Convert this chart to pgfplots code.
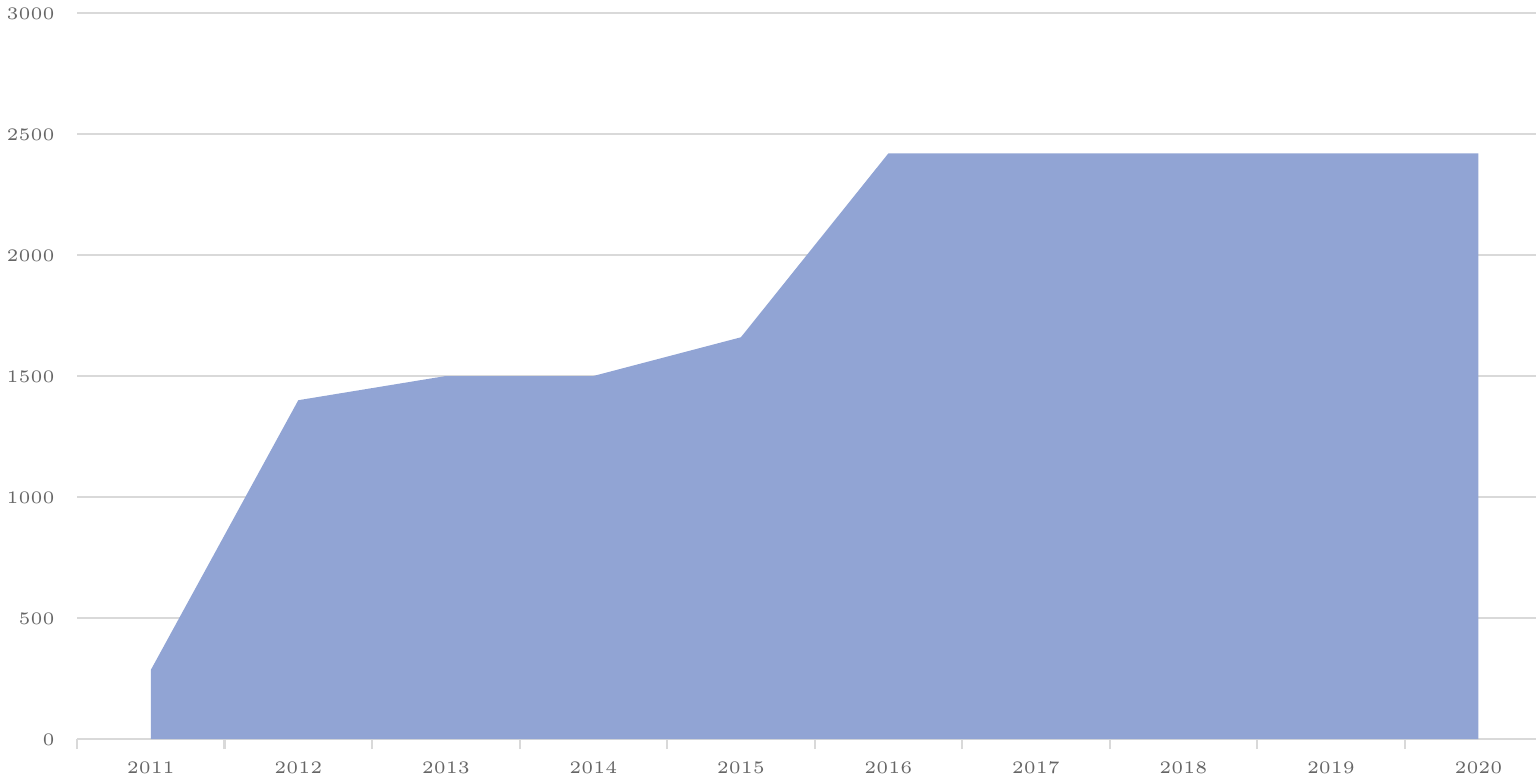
\documentclass[border=0pt]{standalone}
\usepackage{pgfplots}
\pgfplotsset{compat=1.18}
\definecolor{areafill}{HTML}{91A4D4}
\definecolor{gridc}{HTML}{D9D9D9}
\definecolor{labc}{HTML}{666666}
\begin{document}
\begin{tikzpicture}
\useasboundingbox (0,0) rectangle (15.36,7.78);
\begin{axis}[
  at={(0.77cm,0.39cm)}, anchor=south west,
  scale only axis,
  width=14.59cm, height=7.26cm,
  xmin=-0.5, xmax=9.39,
  ymin=0, ymax=3000,
  ytick={0,500,...,3000},
  yticklabel style={/pgf/number format/1000 sep={}},
  xtick={0,...,9},
  xticklabels={2011,2012,2013,2014,2015,2016,2017,2018,2019,2020},
  minor xtick={-0.5,0.5,...,8.5},
  major x tick style={draw=none},
  minor x tick style={draw=gridc, line width=0.6pt},
  minor tick length=0.1cm,
  tick align=outside,
  y tick style={draw=none},
  ymajorgrids, grid style={draw=gridc, line width=0.6pt},
  axis x line*=bottom, axis y line*=left,
  y axis line style={draw=none},
  x axis line style={draw=gridc, line width=0.8pt, -},
  ticklabel style={font=\tiny, text=labc},
  xticklabel style={yshift=0.05cm},
  yticklabel style={xshift=0.05cm, yshift=-0.01cm},
  clip=false,
]
\addplot[fill=areafill, draw=none] coordinates {
 (0,0) (0,285) (1,1400) (2,1500) (3,1500) (4,1660) (5,2420) (6,2420) (7,2420) (8,2420) (9,2420) (9,0)
} \closedcycle;
\end{axis}
\end{tikzpicture}
\end{document}
